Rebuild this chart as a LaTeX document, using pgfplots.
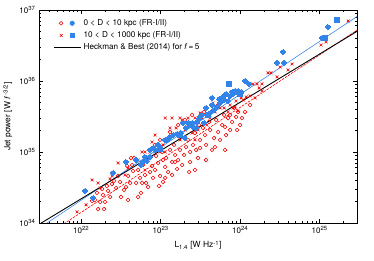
\documentclass[border=0pt]{standalone}
\usepackage{fontspec}
\setmainfont{TeX Gyre Heros}
\usepackage{pgfplots}
\pgfplotsset{compat=1.18}
\definecolor{bl}{RGB}{50,132,232}
\definecolor{rd}{RGB}{245,0,0}
\begin{document}
\begin{tikzpicture}
\begin{axis}[
  name=main,
  scale only axis, width=318bp, height=213bp,
  xmode=log, ymode=log,
  xmin=2.95e21, xmax=2.95e25, ymin=1e34, ymax=1e37,
  xtick={1e22,1e23,1e24,1e25},
  xticklabels={10\textsuperscript{22},10\textsuperscript{23},10\textsuperscript{24},10\textsuperscript{25}},
  ytick={1e34,1e35,1e36,1e37},
  yticklabels={10\textsuperscript{34},10\textsuperscript{35},10\textsuperscript{36},10\textsuperscript{37}},
  minor xtick={4e21,5e21,6e21,7e21,8e21,9e21,2e22,3e22,4e22,5e22,6e22,7e22,8e22,9e22,2e23,3e23,4e23,5e23,6e23,7e23,8e23,9e23,2e24,3e24,4e24,5e24,6e24,7e24,8e24,9e24,2e25},
  minor ytick={2e34,3e34,4e34,5e34,6e34,7e34,8e34,9e34,2e35,3e35,4e35,5e35,6e35,7e35,8e35,9e35,2e36,3e36,4e36,5e36,6e36,7e36,8e36,9e36},
  tick align=inside, major tick length=4bp, minor tick length=2bp,
  axis line style={line width=0.9pt},
  every tick/.style={black, line width=0.5pt},
  ticklabel style={font=\fontsize{8}{9}\selectfont},
  xlabel={L\textsubscript{1.4} [W Hz\textsuperscript{-1}]},
  ylabel={Jet power [W \textit{f}\,\textsuperscript{-3/2}]},
  label style={font=\fontsize{8.5}{10}\selectfont},
  xlabel style={at={(axis description cs:0.5,-0.105)}, anchor=center},
  ylabel style={at={(axis description cs:-0.098,0.5)}, anchor=center},
  legend cell align=left,
  legend pos=north west,
  legend style={draw=none, fill=none, font=\fontsize{8.2}{9}\selectfont, xshift=2bp, yshift=1bp, row sep=0.8bp},
]
% legend entries first
\addlegendimage{legend image code/.code={
  \draw[rd, line width=0.55pt] (7bp,0bp) circle (1.9bp);
  \fill[bl] (18bp,0bp) circle (2.3bp);
  \path[draw=none, fill=none] (0bp,0bp) -- (27bp,0bp);}}
\addlegendentry{0 < D < 10 kpc (FR-I/II)}
\addlegendimage{legend image code/.code={
  \draw[rd, line width=0.6pt] (5.6bp,-1.4bp) -- (8.4bp,1.4bp) (5.6bp,1.4bp) -- (8.4bp,-1.4bp);
  \fill[bl] (15.9bp,-2.1bp) rectangle (20.1bp,2.1bp);
  \path[draw=none, fill=none] (0bp,0bp) -- (27bp,0bp);}}
\addlegendentry{10 < D < 1000 kpc (FR-I/II)}
\addlegendimage{legend image code/.code={
  \draw[black, line width=0.9pt] (0bp,0bp) -- (27bp,0bp);}}
\addlegendentry{Heckman \& Best (2014) for \textit{f}\,=\,5}
% red open circles: 0 < D < 10 kpc
\addplot[only marks, mark=o, mark size=1.9bp, draw=rd, line width=0.55pt, forget plot] coordinates {
(1.49e22,2.11e34) (1.73e22,1.98e34) (2.0e22,1.98e34) (1.88e22,2.48e34) (1.58e22,2.65e34)
(1.83e22,3.01e34) (2.18e22,2.83e34) (2.44e22,3.54e34) (2.59e22,3.91e34) (3.08e22,3.78e34)
(3.17e22,2.32e34) (3.46e22,2.92e34) (2.75e22,3.11e34) (2.31e22,2.32e34) (1.63e22,1.57e34)
(1.94e22,1.57e34) (2.91e22,4.59e34) (3.66e22,3.21e34) (1.37e22,2.04e34) (2.11e22,3.32e34)
(4.12e22,3.66e34) (4.90e22,3.66e34) (5.83e22,3.66e34) (3.89e22,4.59e34) (4.49e22,5.40e34)
(5.19e22,5.58e34) (6.35e22,4.74e34) (7.35e22,5.22e34) (7.78e22,6.35e34) (6.73e22,7.71e34)
(6.0e22,6.56e34) (5.05e22,7.71e34) (4.37e22,6.56e34) (8.49e22,5.58e34) (9.27e22,7.0e34)
(8.01e22,4.31e34) (5.50e22,4.31e34) (4.62e22,8.22e34) (3.78e22,6.35e34) (6.55e22,3.66e34)
(7.35e22,8.22e34) (8.75e22,8.79e34) (9.82e22,4.59e34) (6.93e22,3.21e34) (5.66e22,2.65e34)
(9.53e22,3.32e34) (1.07e23,3.78e34) (4.24e22,8.22e34)
(1.14e23,6.15e34) (1.39e23,7.23e34) (1.52e23,7.23e34) (1.24e23,5.22e34) (1.52e23,9.08e34)
(1.75e23,1.07e35) (1.97e23,9.08e34) (1.66e23,7.71e34) (2.08e23,1.17e35) (2.34e23,1.0e35)
(2.55e23,1.26e35) (2.79e23,1.07e35) (3.13e23,1.48e35) (2.21e23,1.48e35) (1.86e23,6.56e34)
(1.31e23,1.07e35) (1.17e23,8.22e34) (2.95e23,8.22e34) (2.34e23,7.23e34) (1.04e23,1.0e35)
(1.47e23,1.26e35) (2.02e23,1.63e35) (2.70e23,1.85e35) (3.13e23,1.14e35) (1.61e23,5.77e34)
(2.28e23,5.22e34) (1.07e23,7.71e34)
(3.61e23,1.73e35) (4.18e23,2.04e35) (4.69e23,1.57e35) (5.27e23,1.91e35) (5.92e23,2.40e35)
(6.46e23,2.25e35) (7.03e23,3.01e35) (7.91e23,2.65e35) (8.87e23,3.11e35) (9.40e23,3.66e35)
(3.72e23,1.26e35) (4.43e23,1.07e35) (3.41e23,2.18e35) (4.98e23,2.83e35) (5.58e23,1.48e35)
(6.64e23,1.73e35) (7.46e23,2.04e35) (8.38e23,4.17e35) (9.96e23,2.40e35) (4.06e23,2.65e35)
(3.04e23,2.40e35) (4.83e23,1.17e35) (6.27e23,3.32e35) (9.14e23,2.04e35) (1.05e24,3.01e35)
(2.02e23,2.83e35) (2.48e23,3.32e35) (1.66e23,2.40e35) (1.31e23,1.91e35) (9.82e22,1.48e35)
(8.49e22,1.26e35) (3.51e23,3.66e35) (5.27e23,4.59e35) (7.46e23,3.32e35) (1.15e24,3.66e35)
(1.33e24,4.59e35) (5.19e22,2.32e34) (3.89e22,2.11e34) (1.14e23,4.31e34) (1.39e23,4.74e34)
(3.72e23,7.71e34) (2.70e23,5.58e34) (6.46e23,1.07e35)
};
% red crosses: 10 < D < 1000 kpc
\addplot[only marks, mark=x, mark size=2bp, draw=rd, line width=0.6pt, forget plot] coordinates {
(8.87e21,1.43e34) (1.15e22,1.80e34) (1.37e22,4.04e34) (1.63e22,3.66e34) (1.73e22,3.11e34)
(2.31e22,4.17e34) (2.44e22,4.59e34) (2.91e22,7.0e34) (3.56e22,4.74e34) (3.89e22,5.96e34)
(5.19e22,7.71e34) (5.83e22,1.0e35) (6.35e22,5.58e34) (7.78e22,1.38e35) (8.49e22,1.73e35)
(9.27e22,1.07e35) (1.07e23,1.26e35) (1.20e23,1.48e35) (1.31e23,1.57e35) (1.31e23,2.18e35)
(1.56e23,2.18e35) (1.75e23,1.48e35) (1.86e23,2.83e35) (2.02e23,2.04e35) (2.21e23,2.40e35)
(2.48e23,1.85e35) (2.70e23,1.48e35) (2.95e23,2.04e35) (3.13e23,3.54e35) (3.31e23,3.01e35)
(3.83e23,2.40e35) (4.18e23,3.01e35) (4.56e23,4.90e35) (4.83e23,3.66e35) (5.58e23,4.17e35)
(6.27e23,4.17e35) (7.03e23,3.66e35) (7.46e23,4.59e35) (8.13e23,4.17e35) (8.61e23,4.31e35)
(9.40e23,3.78e35) (8.87e23,5.22e35) (1.03e24,5.77e35) (1.09e24,5.40e35) (1.19e24,5.96e35)
(1.33e24,6.15e35) (1.54e24,5.77e35) (1.45e24,9.08e35) (1.63e24,9.08e35) (1.88e24,9.08e35)
(1.73e24,7.96e35) (1.88e24,7.23e35) (2.24e24,1.30e36) (2.44e24,1.30e36) (2.91e24,1.14e36)
(3.17e24,1.57e36) (4.0e24,1.43e36) (4.49e24,1.73e36) (1.04e25,3.21e36) (1.20e25,3.54e36)
(2.28e25,7.0e36)
(6.35e22,1.0e35) (7.35e22,1.0e35) (8.49e22,1.0e35) (9.82e22,1.0e35) (1.14e23,1.0e35)
(1.14e23,3.01e35) (1.39e23,3.01e35) (1.75e23,3.01e35) (2.21e23,3.01e35) (2.70e23,3.01e35)
};
% blue filled circles: 0 < D < 10 kpc
\addplot[only marks, mark=*, mark size=2.3bp, draw=bl, fill=bl, line width=0pt, forget plot] coordinates {
(1.12e22,2.83e34) (1.41e22,2.25e34) (2.52e22,5.06e34) (3.66e22,7.23e34) (6.0e22,7.23e34)
(6.73e22,7.46e34) (7.35e22,8.51e34) (8.49e22,1.07e35) (9.27e22,1.26e35) (9.82e22,1.17e35)
(1.14e23,1.48e35) (1.20e23,1.48e35) (1.31e23,1.63e35) (1.43e23,1.73e35) (1.61e23,1.80e35)
(1.80e23,1.85e35) (1.91e23,2.56e35) (2.08e23,2.18e35) (2.21e23,2.56e35) (2.48e23,2.56e35)
(2.55e23,2.25e35) (2.86e23,2.65e35) (3.04e23,2.92e35) (3.31e23,3.32e35) (3.51e23,2.56e35)
(4.18e23,3.54e35) (4.43e23,4.59e35) (4.43e23,5.77e35) (5.12e23,4.31e35) (5.42e23,5.57e35)
(5.58e23,4.90e35) (6.08e23,5.96e35) (6.27e23,5.40e35) (7.03e23,5.22e35) (7.91e23,7.0e35)
(8.13e23,6.56e35) (8.61e23,7.23e35) (9.40e23,7.23e35) (9.68e23,6.56e35) (1.03e24,7.0e35)
(1.15e24,1.0e36) (1.29e24,9.08e35) (2.91e24,1.80e36) (3.56e24,1.80e36) (3.46e24,2.56e36)
(1.07e25,4.04e36) (1.27e25,5.77e36) (6.35e22,8.51e34) (7.35e22,1.07e35) (3.13e23,3.11e35)
(2.34e23,2.40e35) (5.66e22,6.56e34) (8.01e22,1.14e35) (4.90e22,7.71e34) (4.69e23,3.91e35)
(6.64e23,6.56e35) (2.02e23,1.57e35) (2.79e23,2.18e35) (7.46e23,6.15e35) (3.72e23,4.17e35)
};
% blue filled squares: 10 < D < 1000 kpc
\addplot[only marks, mark=square*, mark size=2.1bp, draw=bl, fill=bl, line width=0pt, forget plot] coordinates {
(7.24e23,9.08e35) (1.65e25,7.23e36) (1.17e25,4.04e36) (1.75e23,1.73e35) (3.94e23,3.32e35)
(9.96e23,6.56e35) (9.82e22,1.07e35)
};
% fits and relation
\addplot[rd, line width=0.6pt, dash pattern=on 2.5pt off 1.2pt, forget plot] coordinates {(2.95e21,5.7e33) (2.95e25,5.2e36)};
\addplot[bl, line width=0.6pt, forget plot] coordinates {(2.95e21,8.4e33) (2.95e25,8.1e36)};
\addplot[black, line width=0.9pt, forget plot] coordinates {(2.95e21,9.55e33) (2.95e25,5.0e36)};
\end{axis}
\path[use as bounding box] ([xshift=-39bp,yshift=-38bp]main.south west) rectangle ([xshift=17bp,yshift=10bp]main.north east);
\end{tikzpicture}
\end{document}
